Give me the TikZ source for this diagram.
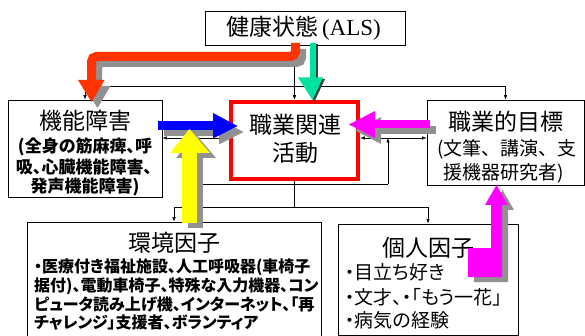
\documentclass[tikz,border=0pt]{standalone}
\usepackage{fontspec}
\setmainfont{Noto Sans CJK JP}[RawFeature=+palt]
\newfontfamily\jpfix{Noto Sans CJK JP}
\newfontfamily\serifals{Liberation Serif}
\usetikzlibrary{arrows.meta}
\definecolor{redarrow}{RGB}{255,51,0}
\definecolor{greenarrow}{RGB}{0,226,160}
\definecolor{bluearrow}{RGB}{0,0,255}
\definecolor{magarrow}{RGB}{255,0,255}
\definecolor{yelarrow}{RGB}{255,255,0}
\definecolor{shadowc}{RGB}{145,145,145}
\begin{document}
\begin{tikzpicture}[x=1pt,y=-1pt,
  box/.style={draw,line width=0.8pt,inner sep=0pt},
  ttl/.style={inner sep=0pt,font=\fontsize{23}{26}\selectfont},
  sub/.style={inner sep=0pt,font=\jpfix\fontsize{19}{21}\selectfont},
  bsub/.style={inner sep=0pt,font=\bfseries\fontsize{17}{19}\selectfont},
  esub/.style={inner sep=0pt,anchor=west,font=\bfseries\fontsize{16}{18}\selectfont},
  psub/.style={inner sep=0pt,anchor=west,font=\fontsize{19}{21}\selectfont},
  conn/.style={line width=0.6pt},
  tarrow/.style={line width=0.6pt,-{Latex[length=4.5pt,width=3.5pt]}},
  darrow/.style={line width=0.6pt,{Latex[length=4.5pt,width=3.5pt]}-{Latex[length=4.5pt,width=3.5pt]}},
  shaft/.style={line width=#1,line cap=butt,line join=miter},
]
\useasboundingbox (0,0) rectangle (585,336);

% boxes
\node[box,minimum width=200pt,minimum height=34pt] (health) at (305,28) {};
\node[box,minimum width=154pt,minimum height=97pt] (impair) at (85,148.5) {};
\node[draw=red,line width=4.5pt,inner sep=0pt,minimum width=127pt,minimum height=77pt] (activity) at (294.5,140.5) {};
\node[box,minimum width=157pt,minimum height=85pt] (goal) at (505.5,142.5) {};
\node[box,minimum width=294pt,minimum height=114pt] (env) at (174,279) {};
\node[box,minimum width=180pt,minimum height=111pt] (personal) at (428,279.5) {};

% texts
\node[ttl] (healthT) at (303.5,28) {健康状態{\serifals\,(ALS)}};
\node[ttl] (impairT) at (85,121) {機能障害};
\node[bsub] (impairL1) at (85,147) {(全身の筋麻痺、呼};
\node[bsub] (impairL2) at (84,166.5) {吸、心臓機能障害、};
\node[bsub] (impairL3) at (85,186.5) {発声機能障害)};
\node[ttl] (actT1) at (295,125) {職業関連};
\node[ttl] (actT2) at (295,153) {活動};
\node[ttl] (goalT) at (506,122) {職業的目標};
\node[sub] (goalL1) at (507,149) {(文筆、講演、支};
\node[sub] (goalL2) at (504,173) {援機器研究者)};
\node[ttl] (envT) at (174,243) {環境因子};
\node[esub] (envL1) at (34,267) {・医療付き福祉施設、人工呼吸器(車椅子};
\node[esub] (envL2) at (34,286) {据付)、電動車椅子、特殊な入力機器、コン};
\node[esub] (envL3) at (34,305) {ピュータ読み上げ機、インターネット、「再};
\node[esub] (envL4) at (34,323) {チャレンジ」支援者、ボランティア};
\node[ttl] (persT) at (428,248) {個人因子};
\node[psub] (persL1) at (345,272) {・目立ち好き};
\node[psub] (persL2) at (345,297) {・文才、・「もう一花」};
\node[psub] (persL3) at (345,320) {・病気の経験};

% thin connectors
\coordinate (topbar) at (0,86);
\coordinate (midbar) at (0,138);
\coordinate (ctxbar) at (0,184);
\coordinate (botbar) at (0,207);
\coordinate (ctxL) at (198,184);
\coordinate (ctxR) at (388,184);
\draw[tarrow] (health.south -| activity.north) -- (activity.north);
\draw[conn] (topbar -| impair.north) -- (topbar -| goal.north);
\draw[tarrow] (topbar -| impair.north) -- (impair.north);
\draw[tarrow] (topbar -| goal.north) -- (goal.north);
\draw[darrow] (impair.east |- midbar) -- (activity.west |- midbar);
\draw[darrow] (activity.east |- midbar) -- (goal.west |- midbar);
\draw[conn] (ctxL) -- (ctxR);
\draw[tarrow] (ctxR) -- (ctxR |- midbar);
\draw[tarrow] (ctxL) -- (ctxL |- midbar);
\draw[conn] (activity.south) -- (activity.south |- botbar);
\draw[conn] (botbar -| env.north) -- (botbar -| personal.north);
\draw[tarrow] (botbar -| env.north) -- (env.north);
\draw[tarrow] (botbar -| personal.north) -- (personal.north);

% shadows of the thick arrows
\begin{scope}[shift={(6,6)}]
  \draw[shaft=9pt,shadowc,rounded corners=5pt] (295.5,43) -- (295.5,56.5) -- (91.5,56.5) -- (91.5,81);
  \fill[shadowc] (78,80) -- (104.5,80) -- (91.5,102) -- cycle;
  \draw[shaft=9pt,shadowc] (158,126) -- (214,126);
  \fill[shadowc] (213,113) -- (213,138.5) -- (237.5,126) -- cycle;
  \draw[shaft=8pt,shadowc] (430,124) -- (374,124);
  \fill[shadowc] (375,111) -- (375,138) -- (349,124.5) -- cycle;
\end{scope}
\begin{scope}[shift={(6,5)}]
  \draw[shaft=15pt,shadowc] (189.5,223) -- (189.5,152);
  \fill[shadowc] (170,153) -- (210,153) -- (189.5,129) -- cycle;
  \fill[shadowc] (468,248) -- (491,248) -- (491,205) -- (485,205) -- (496.5,185) -- (508,205) -- (502,205) -- (502,277) -- (468,277) -- cycle;
\end{scope}
\begin{scope}[shift={(2,1.5)}]
  \draw[shaft=6pt,black!75] (312.5,43) -- (312.5,78);
  \fill[black!75] (298,77.5) -- (323,77.5) -- (312.5,100) -- cycle;
\end{scope}

% thick arrows
\draw[shaft=9pt,redarrow,rounded corners=5pt] (295.5,43) -- (295.5,56.5) -- (91.5,56.5) -- (91.5,81);
\fill[redarrow] (78,80) -- (104.5,80) -- (91.5,102) -- cycle;
\draw[shaft=6pt,greenarrow] (312.5,43) -- (312.5,78);
\fill[greenarrow] (298,77.5) -- (323,77.5) -- (312.5,100) -- cycle;
\draw[shaft=9pt,bluearrow] (158,126) -- (214,126);
\fill[bluearrow] (213,113) -- (213,138.5) -- (237.5,126) -- cycle;
\draw[shaft=8pt,magarrow] (430,124) -- (374,124);
\fill[magarrow] (375,111) -- (375,138) -- (349,124.5) -- cycle;
\draw[shaft=15pt,yelarrow] (189.5,223) -- (189.5,152);
\fill[yelarrow] (170,153) -- (210,153) -- (189.5,129) -- cycle;
\fill[magarrow] (468,248) -- (491,248) -- (491,205) -- (485,205) -- (496.5,185) -- (508,205) -- (502,205) -- (502,277) -- (468,277) -- cycle;
\end{tikzpicture}
\end{document}
